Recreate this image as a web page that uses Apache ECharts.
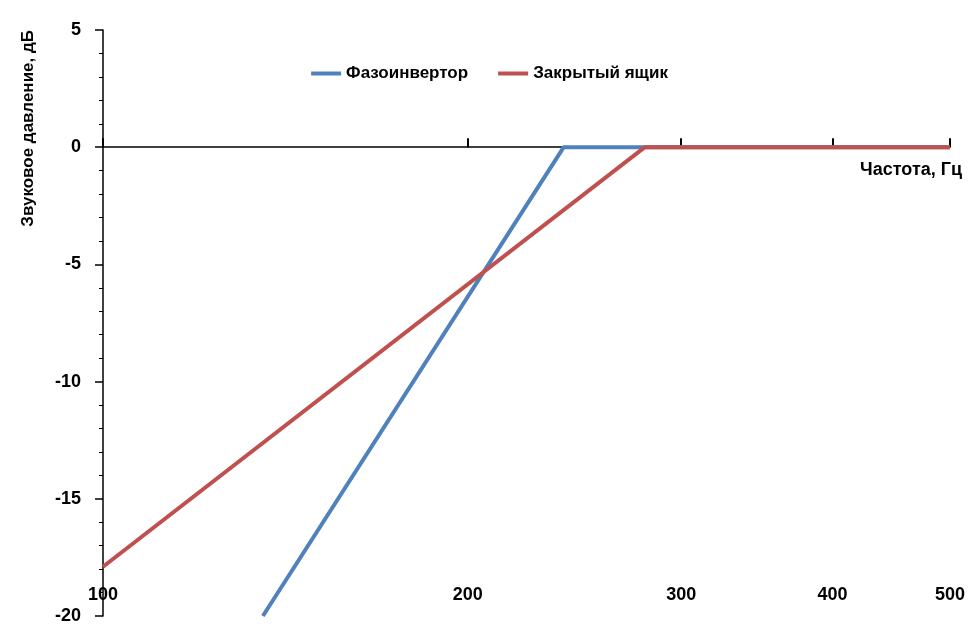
<!DOCTYPE html>
<html><head><meta charset="utf-8">
<script src="https://cdn.jsdelivr.net/npm/echarts@6/dist/echarts.min.js"></script>
<style>html,body{margin:0;background:#fff}#c{width:979px;height:638px}</style>
</head><body><div id="c"></div>
<script>
var xTicks = [100, 200, 300, 400, 500];
var bassReflex = [[135.5, -20], [240, 0], [500, 0]];
var closedBox = [[100, -17.9], [280, 0], [500, 0]];

var chart = echarts.init(document.getElementById('c'));
var font = 'Liberation Sans, Arial, sans-serif';
chart.setOption({
    animation: false,
    grid: {left: 103, right: 29, top: 30, bottom: 22},
    legend: {
        top: 60, left: 'center', itemGap: 30,
        itemWidth: 30, itemHeight: 4, icon: 'rect',
        textStyle: {fontFamily: font, fontSize: 17, fontWeight: 'bold', color: '#000'},
        data: ['Фазоинвертор', 'Закрытый ящик']
    },
    xAxis: {
        type: 'log', min: 100, max: 500, position: 'bottom',
        axisLine: {onZero: true, lineStyle: {color: '#000', width: 1.5}},
        axisTick: {show: true, inside: true, customValues: xTicks, length: 9, lineStyle: {color: '#000', width: 2}},
        axisLabel: {inside: true, customValues: xTicks, color: '#000', fontFamily: font, fontSize: 18, fontWeight: 'bold', margin: 12},
        minorTick: {show: false},
        splitLine: {show: false},
        name: 'Частота, Гц', nameLocation: 'end', nameGap: 0,
        nameTextStyle: {fontFamily: font, fontSize: 18, fontWeight: 'bold', color: '#000',
            align: 'right', verticalAlign: 'top', padding: [14, -12, 0, 0]}
    },
    yAxis: {
        type: 'value', min: -20, max: 5, interval: 5,
        axisLine: {show: true, onZero: false, lineStyle: {color: '#000', width: 1.5}},
        axisTick: {show: true, length: 8, lineStyle: {color: '#000', width: 1.5}},
        minorTick: {show: true, splitNumber: 5, length: 4, lineStyle: {color: '#000'}},
        axisLabel: {color: '#000', fontFamily: font, fontSize: 18, fontWeight: 'bold', margin: 22},
        splitLine: {show: false},
        name: 'Звуковое давление, дБ', nameLocation: 'end', nameRotate: 90, nameGap: 0,
        nameTextStyle: {fontFamily: font, fontSize: 17, fontWeight: 'bold', color: '#000',
            align: 'right', verticalAlign: 'bottom', padding: [0, 0, 66, 0]}
    },
    series: [
        {name: 'Фазоинвертор', type: 'line', data: bassReflex, showSymbol: false,
            lineStyle: {color: '#4f81bd', width: 4}, itemStyle: {color: '#4f81bd'}},
        {name: 'Закрытый ящик', type: 'line', data: closedBox, showSymbol: false,
            lineStyle: {color: '#c0504d', width: 4}, itemStyle: {color: '#c0504d'}}
    ]
});
</script></body></html>
